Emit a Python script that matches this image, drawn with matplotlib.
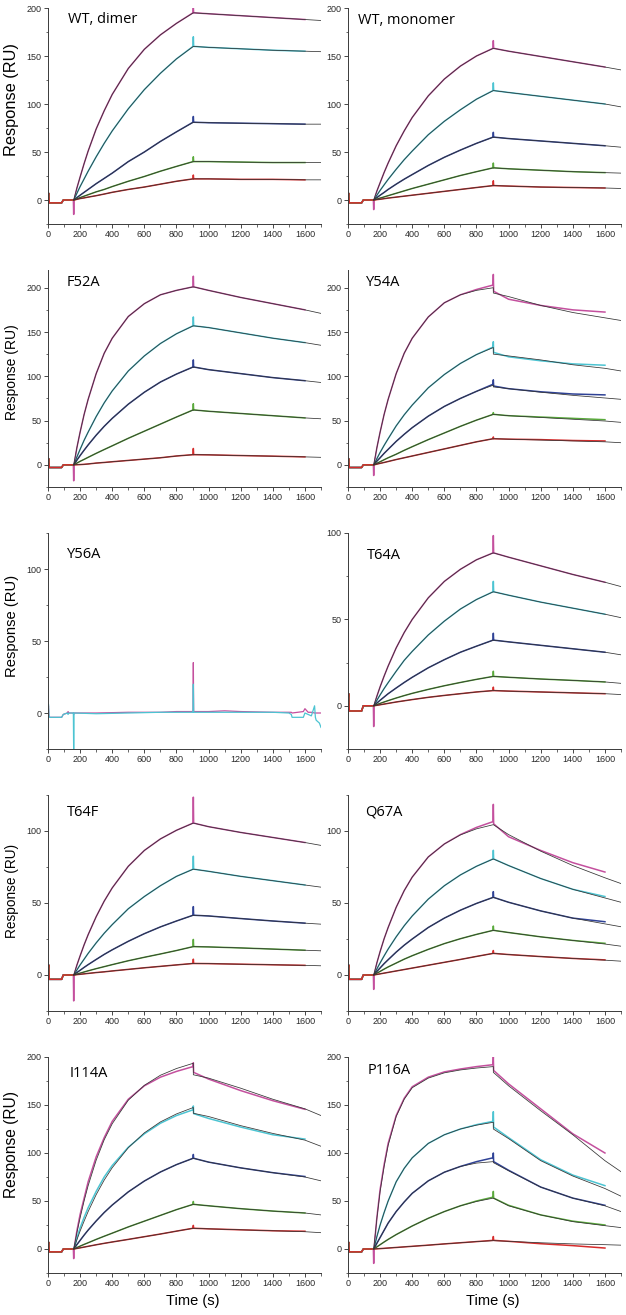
import matplotlib
matplotlib.use("Agg")
import matplotlib.pyplot as plt
from matplotlib.ticker import MultipleLocator

plt.rcParams.update({
    "font.family": ["Liberation Sans", "DejaVu Sans"],
    "axes.linewidth": 0.7,
    "axes.edgecolor": "#3a3a3a",
    "xtick.direction": "out",
    "ytick.direction": "out",
    "xtick.color": "#2a2a2a",
    "ytick.color": "#2a2a2a",
    "xtick.labelsize": 6.5,
    "ytick.labelsize": 6.5,
    "xtick.major.size": 3,
    "ytick.major.size": 3,
    "xtick.minor.size": 1.8,
    "ytick.minor.size": 1.8,
    "xtick.major.width": 0.6,
    "ytick.major.width": 0.6,
    "xtick.minor.width": 0.5,
    "ytick.minor.width": 0.5,
    "xtick.major.pad": 1.5,
    "ytick.major.pad": 1.5,
})

# ---- data (RU) ------------------------------------------------------------
# sample times: association 160-905 s, dissociation 905-1700 s
FIT_T = [160, 180, 200, 225, 250, 300, 350, 400, 500, 600, 700, 800, 905,
         905, 1000, 1200, 1400, 1600, 1700]
BASE_T = [0, 4, 8, 85, 95, 150]
BASE_V = [3, 7, -3, -3, 0, 0]

COLORS = ["#c4509e", "#4cc4d2", "#2f4296", "#5aaa3c", "#d62c2c"]
FIT_COLOR = "#333333"

WT_DIMER = [
    [0, 12.5, 24, 38, 51, 74, 93, 110, 137, 157, 172, 184, 195, 195, 194, 192, 190, 188, 187],
    [0, 7, 14, 22, 30, 45, 59, 72, 95, 115, 132, 147, 160, 160, 159, 157.5, 156, 155, 154.5],
    [0, 2.5, 5, 8, 11, 17, 22.5, 28, 40, 50, 61, 71, 81, 81, 80.5, 80, 79.5, 79, 79],
    [0, 1.2, 2.5, 4, 5.5, 8.5, 11, 14, 19.5, 24.5, 30, 35, 40, 40, 40, 39.5, 39, 39, 39],
    [0, 0.7, 1.5, 2.2, 3, 4.5, 6.2, 8, 11, 13.5, 16.5, 19.5, 22, 22, 22, 21.5, 21.5, 21, 21],
]
WT_MONOMER = [
    [0, 9.4, 18, 28.7, 38.5, 56.5, 72, 86, 108.5, 126, 139.5, 150, 158, 158, 155, 149.5, 144, 138.5, 135.5],
    [0, 5, 10, 15.8, 21.5, 32, 42, 51, 68, 82, 94, 105, 114, 114, 112, 108, 104, 100, 97],
    [0, 2.5, 5, 7.9, 11, 16.5, 21.7, 26.5, 36, 44.5, 52, 59, 65.5, 65.5, 64, 61.5, 59, 56.5, 55],
    [0, 1, 2, 3.2, 4.5, 7, 9.5, 12, 16.5, 21, 25.5, 29.5, 33.5, 33.5, 32.5, 31, 29.5, 28.5, 28],
    [0, 0.4, 0.8, 1.4, 2, 3, 4, 5, 7, 9, 11, 13, 15, 15, 14.5, 13.5, 13, 12.5, 12],
]
F52A = [
    [0, 19.5, 37, 57, 74, 103, 126, 143, 167.5, 182, 192, 197, 201, 201, 197, 189, 182, 175, 171],
    [0, 9, 17.5, 27.8, 37, 54.5, 70, 83.5, 106, 123, 137, 148, 157, 157, 155, 149, 143, 138, 135],
    [0, 5.3, 10.5, 16.6, 22.5, 33.5, 43.5, 52.5, 68.5, 82, 93.5, 102.5, 110.5, 110.5, 107.5, 103, 98.5, 95, 93],
    [0, 2, 4, 6.2, 8.5, 13, 17.3, 21.5, 30, 38, 46, 54, 62, 62, 60.5, 58, 55.5, 53, 52],
    [0, 0.15, 0.3, 0.6, 1, 2, 2.7, 3.5, 5, 6.5, 8, 10, 11.5, 11.5, 11.3, 10.5, 9.8, 9, 8.5],
]
Y54A = [
    [0, 19.5, 37, 57, 74, 103, 126, 143, 167, 183, 192, 197, 200, 194, 190, 180, 172, 166, 163],
    [0, 7.1, 14, 22, 29.5, 44, 56.5, 67.5, 87, 102, 114.5, 124.5, 132.5, 125, 123, 118.5, 113, 109, 106],
    [0, 4.2, 8, 13, 17.5, 26.5, 34.5, 42, 55, 66, 75, 83, 90, 88, 86, 82, 78.5, 75.5, 74],
    [0, 1.8, 3.5, 5.8, 8, 12, 16.4, 20.5, 28.5, 36, 43.5, 50.5, 57, 57, 55.5, 53.5, 51.5, 49.5, 48],
    [0, 0.85, 1.7, 2.7, 3.8, 6, 8, 10, 14, 18, 22, 26, 29.5, 29.5, 29, 28, 27, 26, 25],
]
Y54A_DATA = [
    [0, 19.5, 37, 57, 74, 103, 126, 143, 167, 183, 192, 198, 203, 196, 187, 180, 175, 172.5, 172.5],
    [0, 7.1, 14, 22, 29.5, 44, 56.5, 67.5, 87, 102, 114.5, 124.5, 133, 127, 122, 117.5, 114, 112.5, 112.5],
    [0, 4.2, 8, 13, 17.5, 26.5, 34.5, 42, 55, 66, 75, 83, 91, 89, 86, 82.5, 80, 79, 79],
    [0, 1.8, 3.5, 5.8, 8, 12, 16.4, 20.5, 28.5, 36, 43.5, 50.5, 57, 57, 55.5, 54, 52.5, 51, 51],
    [0, 0.85, 1.7, 2.7, 3.8, 6, 8, 10, 14, 18, 22, 26, 29.5, 29.5, 29, 28.5, 27.5, 27, 27],
]
# Y56A: no binding, raw traces only
Y56A_T = [0, 3, 6, 10, 85, 95, 120, 125, 130, 155, 158, 160, 162, 300, 500, 700, 800,
          900, 903, 905, 907, 1000, 1100, 1200, 1400, 1500, 1515, 1520, 1590, 1600,
          1620, 1640, 1660, 1665, 1670, 1690, 1700]
Y56A_MAG = [0, 5, -2, -3, -3, -1, 0, 1, 0, 0, 0, -1, 0, 0, 0.5, 0.5, 1,
            1, 1, 35, 1, 1, 1.5, 1, 0.5, 0.5, 0.5, 0, 1, 3,
            0.5, 0.5, 0, 0, 0, 0, 0]
Y56A_CYAN = [0, 6, -2, -3, -3, -1, 0, -1, 0, 0, 0, -30, 0, -0.5, 0, 0.5, 0.5,
             0.5, 0.5, 20, 0.5, 0.5, 0.5, 0.5, 0.5, 0, -1, -3, -3, 0,
             -1, -2, 5, -3, -5, -7, -10]
T64A = [
    [0, 5.6, 11, 17.2, 23, 33.5, 42.4, 50, 62.5, 72, 79, 84.5, 88.5, 88.5, 86, 81, 76, 71.5, 69],
    [0, 3.2, 6.3, 10, 13.4, 20, 26.3, 31.5, 41, 49, 56, 61.5, 66, 66, 64, 60, 56.5, 53, 51],
    [0, 1.6, 3.2, 5.1, 7, 10.3, 13.5, 16.5, 22, 26.7, 31, 34.5, 38, 38, 37, 35, 33, 31, 29.5],
    [0, 0.7, 1.4, 2.2, 3, 4.5, 5.9, 7.2, 9.5, 11.6, 13.5, 15.3, 17, 17, 16.5, 15.5, 14.7, 13.8, 13],
    [0, 0.3, 0.6, 1, 1.4, 2.2, 2.9, 3.6, 4.9, 6, 7, 8, 8.8, 8.8, 8.5, 8, 7.5, 7, 6.5],
]
T64F = [
    [0, 6.9, 13.3, 21, 28, 40.5, 51.3, 60.5, 75.5, 86.5, 94.5, 100.5, 105.5, 105.5, 103, 99, 95.5, 92, 90],
    [0, 3.5, 7, 11, 15, 22.3, 29, 35, 46, 54.5, 62, 68.5, 73.5, 73.5, 72, 68.5, 65.5, 62.5, 61],
    [0, 1.7, 3.3, 5.3, 7.2, 10.8, 14.3, 17.5, 23.4, 28.7, 33.4, 37.5, 41.5, 41.5, 41, 39.2, 37.5, 36, 35.3],
    [0, 0.65, 1.3, 2.1, 2.9, 4.4, 5.8, 7.2, 9.9, 12.3, 14.6, 17, 19.7, 19.7, 19.5, 18.8, 18, 17.2, 16.8],
    [0, 0.25, 0.5, 0.8, 1.1, 1.7, 2.2, 2.8, 3.9, 5, 6, 7, 8, 8, 7.9, 7.5, 7.1, 6.7, 6.4],
]
Q67A = [
    [0, 8.5, 16.3, 25.2, 33, 47, 58.6, 68, 82, 91, 97.3, 101.5, 104.4, 104.4, 97.5, 86, 76, 67.5, 63.5],
    [0, 4.3, 8.4, 13.3, 18, 26.5, 34.2, 41, 52.7, 62, 69.5, 75.5, 80.6, 80.6, 76, 67, 59.5, 53.5, 50.5],
    [0, 2.5, 4.9, 7.9, 10.6, 15.9, 20.7, 25, 33, 39.5, 45, 49.7, 53.9, 53.9, 50.5, 44.5, 39.5, 35.5, 33.5],
    [0, 1.3, 2.5, 4.1, 5.6, 8.3, 11, 13.4, 17.8, 21.8, 25.2, 28.2, 31, 31, 29.5, 26.5, 24, 21.5, 20],
    [0, 0.4, 0.8, 1.3, 1.8, 2.8, 3.8, 4.8, 6.8, 8.8, 10.8, 12.9, 15, 15, 14.2, 12.8, 11.5, 10.3, 9.6],
]
Q67A_DATA = [
    [0, 8.5, 16.3, 25.2, 33, 47, 58.6, 68, 82, 91, 97.5, 102.5, 106.5, 105, 96, 86.5, 78, 71.5, 71.5],
    [0, 4.3, 8.4, 13.3, 18, 26.5, 34.2, 41, 52.7, 62, 69.5, 75.5, 80.6, 80.6, 76, 67, 59.5, 54.5, 54.5],
    [0, 2.5, 4.9, 7.9, 10.6, 15.9, 20.7, 25, 33, 39.5, 45, 49.7, 53.9, 53.9, 50.5, 44.5, 39.5, 37, 37],
    [0, 1.3, 2.5, 4.1, 5.6, 8.3, 11, 13.4, 17.8, 21.8, 25.2, 28.2, 31, 31, 29.5, 26.5, 24, 22, 22],
    [0, 0.4, 0.8, 1.3, 1.8, 2.8, 3.8, 4.8, 6.8, 8.8, 10.8, 12.9, 15, 15, 14.2, 12.8, 11.5, 10.5, 10.5],
]
I114A = [
    [0, 17, 32.5, 50.2, 66, 92.5, 113.8, 130.5, 155, 170.5, 181, 188, 193.5, 181.5, 178, 167.5, 156, 146, 139],
    [0, 9.6, 18.7, 29.1, 39, 56.6, 71.8, 84.7, 105.5, 121, 132.4, 140.7, 147.4, 141.4, 138, 128.5, 120.4, 113.4, 107],
    [0, 4.6, 9, 14.5, 19.7, 29.2, 38, 45.8, 59.5, 70.8, 80.2, 87.9, 94.5, 94.5, 90.5, 84.5, 79.5, 75, 71],
    [0, 1.5, 3, 4.8, 6.5, 10, 13.3, 16.5, 23, 29, 35, 41, 46.5, 46.5, 45, 42, 39.5, 37.5, 35.5],
    [0, 0.6, 1.2, 2, 2.8, 4.4, 5.9, 7.3, 10, 12.8, 15.6, 18.6, 21.6, 21.6, 21, 20, 19, 18, 17],
]
I114A_DATA = [
    [0, 19, 36, 53, 70, 96, 116, 133, 156, 170, 179, 185, 190, 184, 177, 165, 154.5, 145.5, 145.5],
    [0, 11.5, 22, 33, 43, 60, 75, 87, 106, 120, 131, 139, 145, 141, 136, 127, 119, 114.5, 114.5],
    [0, 4.6, 9, 14.5, 19.7, 29.2, 38, 45.8, 59.5, 70.8, 80.2, 87.9, 94.5, 94.5, 90.5, 84.5, 79.5, 75.5, 75.5],
    [0, 1.5, 3, 4.8, 6.5, 10, 13.3, 16.5, 23, 29, 35, 41, 46.5, 46.5, 45, 42, 39.5, 37.5, 37.5],
    [0, 0.6, 1.2, 2, 2.8, 4.4, 5.9, 7.3, 10, 12.8, 15.6, 18.6, 21.6, 21.6, 21, 20, 19, 18.5, 18.5],
]
P116A = [
    [0, 32, 60, 86, 108, 138, 156, 168, 178, 183.5, 186.5, 188.5, 190, 184, 170, 144, 119, 92, 80.5],
    [0, 13, 25, 38, 50, 70, 84, 95, 110, 119, 125, 129, 132, 125, 115, 92, 76, 63, 55],
    [0, 6, 12, 19.5, 27, 39, 49, 58, 71, 80, 86, 89.5, 91, 90, 81.5, 64.5, 53, 45, 39],
    [0, 2.2, 4.5, 7.3, 10, 15, 19.5, 24, 32, 39, 45, 49.5, 53, 53, 45, 35.5, 28.5, 24.3, 22.3],
    [0, 0.2, 0.4, 0.7, 1, 1.6, 2.2, 2.8, 4, 5.3, 6.5, 7.7, 8.7, 8.7, 8, 6.5, 5.3, 4.5, 4],
]
P116A_DATA = [
    [0, 33, 62, 88, 110, 139, 157, 169, 179, 184.5, 187.5, 190, 192, 186, 172, 146, 120, 100, 100],
    [0, 13, 25, 38, 50, 70, 84, 95, 110, 119, 125, 129.5, 133, 127, 116, 93, 77, 66, 66],
    [0, 6, 12, 19.5, 27, 39, 49, 58, 71, 80, 86, 91, 95, 91, 82, 64.5, 53, 45.5, 45.5],
    [0, 2.2, 4.5, 7.3, 10, 15, 19.5, 24, 32, 39, 45, 50, 54, 53, 45.5, 35.5, 29, 25, 25],
    [0, 0.2, 0.4, 0.7, 1, 1.6, 2.2, 2.8, 4, 5.3, 6.5, 7.7, 9, 9, 8, 5.5, 3.5, 1, 1],
]

# injection-end spike height per trace (RU) and injection-start dip (RU)
SPIKES = {
    "WT, dimer": [5, 10, 6, 5, 4], "WT, monomer": [8, 8, 5, 5, 5],
    "F52A": [12, 10, 8, 7, 7], "Y54A": [12, 6, 5, 2, 2],
    "T64A": [10, 6, 4, 3, 2], "T64F": [18, 9, 6, 5, 3],
    "Q67A": [12, 6, 4, 3, 2], "I114A": [4, 4, 4, 3, 3], "P116A": [8, 10, 5, 6, 4],
}
DIPS = {"WT, dimer": -15, "WT, monomer": -10, "F52A": -18, "Y54A": -12, "T64A": -12,
        "T64F": -18, "Q67A": -10, "I114A": -10, "P116A": -15}

# (name, fit, data, ylim top, row, col, title offset px (dx, dy))
PANELS = [
    ("WT, dimer", WT_DIMER, None, 200, 0, 0, (20, 4)),
    ("WT, monomer", WT_MONOMER, None, 200, 0, 1, (10, 5)),
    ("F52A", F52A, None, 220, 1, 0, (19, 5)),
    ("Y54A", Y54A, Y54A_DATA, 220, 1, 1, (18, 5)),
    ("Y56A", None, None, 125, 2, 0, (19, 14)),
    ("T64A", T64A, None, 100, 2, 1, (19, 15)),
    ("T64F", T64F, None, 125, 3, 0, (19, 10)),
    ("Q67A", Q67A, Q67A_DATA, 125, 3, 1, (17, 10)),
    ("I114A", I114A, I114A_DATA, 200, 4, 0, (22, 9)),
    ("P116A", P116A, P116A_DATA, 200, 4, 1, (20, 6)),
]

# ---- layout (pixels) ------------------------------------------------------
W, H = 626, 1315
ROW_TOP = [8, 270, 533, 795, 1057]
ROW_BOT = [224, 487, 749, 1011, 1273]
COL_X = [(48, 321), (348, 621)]
YLAB_Y = [100, 372, 626, 891, 1145]
YLAB_SIZE = [11.8, 10, 10.6, 9.8, 11.2]

fig = plt.figure(figsize=(W / 100, H / 100), dpi=100)


def trace(d, spike, dip, first):
    t = BASE_T + [158, 160, 162] + FIT_T[1:12] + [903, 905, 907] + FIT_T[14:18]
    v = (BASE_V + [0, dip if first else 0, d[0]] + d[1:12]
         + [d[12], d[12] + spike, d[13]] + d[14:18])
    return t, v


for name, fit, data, ytop, r, c, (dx, dy) in PANELS:
    x0, x1 = COL_X[c]
    top, bot = ROW_TOP[r], ROW_BOT[r]
    ax = fig.add_axes([x0 / W, 1 - bot / H, (x1 - x0) / W, (bot - top) / H])

    if fit is None:
        ax.plot(Y56A_T, Y56A_MAG, color=COLORS[0], lw=0.9)
        ax.plot(Y56A_T, Y56A_CYAN, color=COLORS[1], lw=0.9)
    else:
        data = data or fit
        for i in range(5):
            t, v = trace(data[i], SPIKES[name][i], DIPS[name], i == 0)
            ax.plot(t, v, color=COLORS[i], lw=1.1)
        for i in range(5):
            ax.plot(FIT_T, fit[i], color=FIT_COLOR, lw=0.55)

    ax.set_xlim(0, 1700)
    ax.set_ylim(-25, ytop)
    ax.xaxis.set_minor_locator(MultipleLocator(100))
    ax.yaxis.set_major_locator(MultipleLocator(50))
    ax.yaxis.set_minor_locator(MultipleLocator(25))
    ax.set_xticks(range(0, 1601, 200))
    ax.spines["top"].set_visible(False)
    ax.spines["right"].set_visible(False)
    ax.text(dx / (x1 - x0), 1 - dy / (bot - top), name, transform=ax.transAxes,
            ha="left", va="top", fontsize=10.5, family=["Open Sans", "DejaVu Sans"])

for r in range(5):
    fig.text(12 / W, 1 - YLAB_Y[r] / H, "Response (RU)", rotation=90,
             ha="center", va="center", fontsize=YLAB_SIZE[r])

fig.text(193 / W, 1 - 1301 / H, "Time (s)", ha="center", va="center", fontsize=10.5)
fig.text(493 / W, 1 - 1301 / H, "Time (s)", ha="center", va="center", fontsize=10.5)

fig.savefig("out.png", dpi=100, facecolor="white")
